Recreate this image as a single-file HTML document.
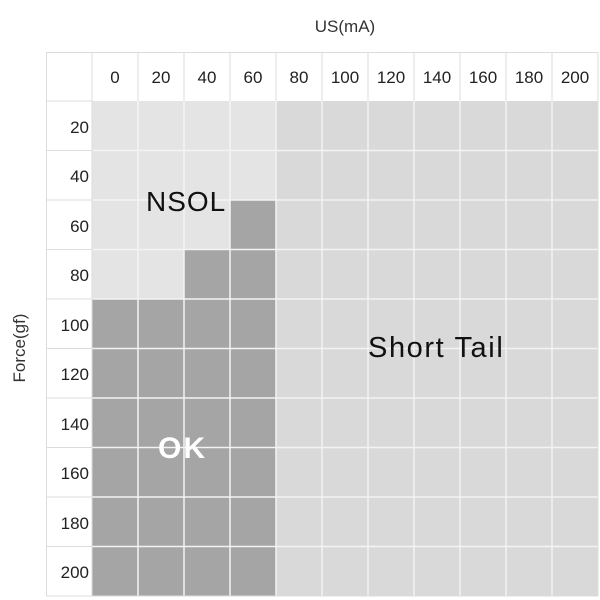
<!DOCTYPE html>
<html><head><meta charset="utf-8"><style>
html,body{margin:0;padding:0;background:#fff;}
svg{display:block;}
text{font-family:"Liberation Sans","DejaVu Sans",sans-serif;}
</style></head><body>
<svg width="600" height="600" viewBox="0 0 600 600" xmlns="http://www.w3.org/2000/svg">
<rect x="0" y="0" width="600" height="600" fill="#fff"/>
<rect x="276" y="101" width="322" height="495" fill="#d9d9d9"/>
<rect x="92" y="101" width="184" height="495" fill="#e4e4e4"/>
<polygon points="230,200 276,200 276,596 92,596 92,299 184,299 184,249.5 230,249.5" fill="#a5a5a5"/>
<g stroke="#f3f3f3" stroke-width="1.5">
<line x1="138" y1="101" x2="138" y2="596"/><line x1="184" y1="101" x2="184" y2="596"/>
<line x1="230" y1="101" x2="230" y2="596"/><line x1="276" y1="101" x2="276" y2="596"/>
<line x1="322" y1="101" x2="322" y2="596"/><line x1="368" y1="101" x2="368" y2="596"/>
<line x1="414" y1="101" x2="414" y2="596"/><line x1="460" y1="101" x2="460" y2="596"/>
<line x1="506" y1="101" x2="506" y2="596"/><line x1="552" y1="101" x2="552" y2="596"/>
<line x1="92" y1="150.5" x2="598" y2="150.5"/><line x1="92" y1="200" x2="598" y2="200"/>
<line x1="92" y1="249.5" x2="598" y2="249.5"/><line x1="92" y1="299" x2="598" y2="299"/>
<line x1="92" y1="348.5" x2="598" y2="348.5"/><line x1="92" y1="398" x2="598" y2="398"/>
<line x1="92" y1="447.5" x2="598" y2="447.5"/><line x1="92" y1="497" x2="598" y2="497"/>
<line x1="92" y1="546.5" x2="598" y2="546.5"/>
</g>
<g stroke="#dcdcdc" stroke-width="1">
<line x1="46.5" y1="52" x2="46.5" y2="596"/><line x1="46" y1="52.5" x2="598" y2="52.5"/>
<line x1="598" y1="52" x2="598" y2="596"/><line x1="46" y1="596" x2="598" y2="596"/>
<line x1="92" y1="52" x2="92" y2="596"/>
<line x1="46" y1="101" x2="92" y2="101"/>
<line x1="46" y1="150.5" x2="92" y2="150.5"/><line x1="46" y1="200" x2="92" y2="200"/>
<line x1="46" y1="249.5" x2="92" y2="249.5"/><line x1="46" y1="299" x2="92" y2="299"/>
<line x1="46" y1="348.5" x2="92" y2="348.5"/><line x1="46" y1="398" x2="92" y2="398"/>
<line x1="46" y1="447.5" x2="92" y2="447.5"/><line x1="46" y1="497" x2="92" y2="497"/>
<line x1="46" y1="546.5" x2="92" y2="546.5"/>
<line x1="138" y1="52" x2="138" y2="101"/><line x1="184" y1="52" x2="184" y2="101"/>
<line x1="230" y1="52" x2="230" y2="101"/><line x1="276" y1="52" x2="276" y2="101"/>
<line x1="322" y1="52" x2="322" y2="101"/><line x1="368" y1="52" x2="368" y2="101"/>
<line x1="414" y1="52" x2="414" y2="101"/><line x1="460" y1="52" x2="460" y2="101"/>
<line x1="506" y1="52" x2="506" y2="101"/><line x1="552" y1="52" x2="552" y2="101"/>
</g>
<g font-size="17" fill="#222" text-anchor="middle">
<text x="115" y="83">0</text><text x="161" y="83">20</text><text x="207" y="83">40</text>
<text x="253" y="83">60</text><text x="299" y="83">80</text><text x="345" y="83">100</text>
<text x="391" y="83">120</text><text x="437" y="83">140</text><text x="483" y="83">160</text>
<text x="529" y="83">180</text><text x="575" y="83">200</text>
</g>
<g font-size="17" fill="#222" text-anchor="end">
<text x="89" y="133">20</text><text x="89" y="182">40</text><text x="89" y="232">60</text>
<text x="89" y="281">80</text><text x="89" y="331">100</text><text x="89" y="380">120</text>
<text x="89" y="430">140</text><text x="89" y="479">160</text><text x="89" y="529">180</text>
<text x="89" y="578">200</text>
</g>
<text x="345" y="32" font-size="17" fill="#333" text-anchor="middle">US(mA)</text>
<text transform="translate(25,348) rotate(-90)" font-size="17" fill="#333" text-anchor="middle">Force(gf)</text>
<text x="146" y="211" font-size="28" fill="#111" letter-spacing="1">NSOL</text>
<text x="368" y="357" font-size="29" fill="#111" letter-spacing="1.6">Short Tail</text>
<text x="158" y="458" font-size="30" font-weight="bold" fill="#fff" letter-spacing="2">OK</text>
</svg>
</body></html>
